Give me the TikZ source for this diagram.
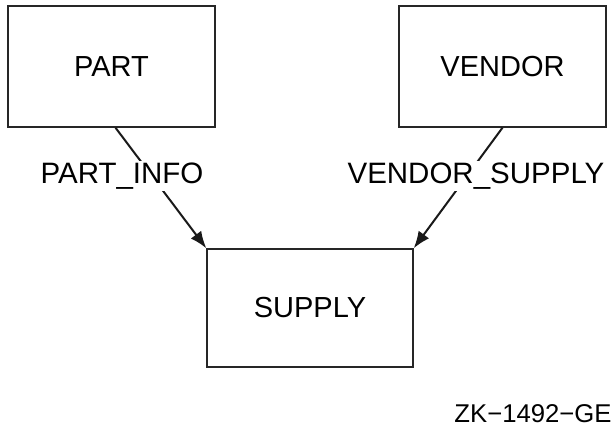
\documentclass[tikz,border=0pt]{standalone}
\usepackage{fontspec}
\setmainfont{Liberation Sans}
\usetikzlibrary{arrows.meta}
\begin{document}
\begin{tikzpicture}[x=1pt,y=-1pt,
  entity/.style={draw=black!85,line width=1.4pt,minimum width=207pt,minimum height=121pt,inner sep=0pt,
    font=\fontsize{29}{33}\selectfont},
  flow/.style={draw=black!90,line width=2pt,-{Latex[length=17pt,width=13pt]}},
  flowlabel/.style={fill=white,inner sep=2pt,font=\fontsize{29.5}{33}\selectfont}]
\useasboundingbox (0,0) rectangle (613,427);
\node[entity] (part) at (111.5,66.5) {PART};
\node[entity] (vendor) at (502.5,66.5) {VENDOR};
\node[entity,minimum width=206pt,minimum height=118pt] (supply) at (310,308) {SUPPLY};
\draw[flow] ([xshift=4pt]part.south) -- (supply.north west);
\draw[flow] (vendor.south) -- (supply.north east);
\node[flowlabel] (l1) at (122,176) {PART\_INFO};
\node[flowlabel] (l2) at (476,176) {VENDOR\_SUPPLY};
\node[font=\fontsize{25.7}{30}\selectfont,inner sep=0pt] (zk) at (533,414) {ZK{\char"2212}1492{\char"2212}GE};
\end{tikzpicture}
\end{document}
